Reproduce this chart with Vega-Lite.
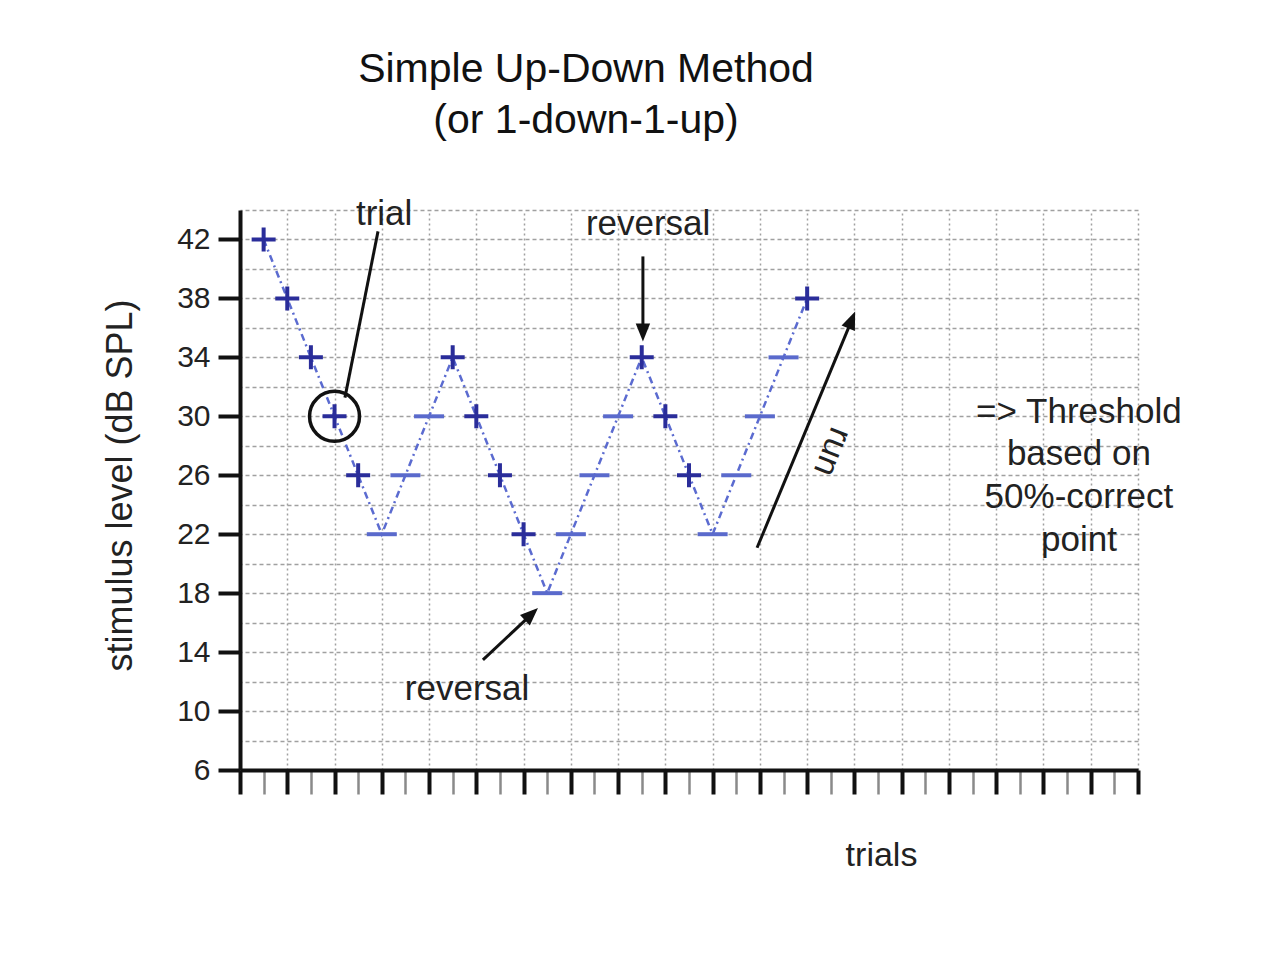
{
  "$schema": "https://vega.github.io/schema/vega-lite/v6.json",
  "width": 898,
  "height": 560,
  "autosize": {"type": "none"},
  "padding": {"left": 240, "top": 210, "right": 142, "bottom": 190},
  "background": "white",
  "config": {"view": {"stroke": null}, "font": "Liberation Sans"},
  "title": {
    "text": ["Simple Up-Down Method", "(or 1-down-1-up)"],
    "font": "Liberation Sans",
    "fontSize": 41,
    "fontWeight": "normal",
    "color": "#111",
    "lineHeight": 51,
    "anchor": "middle",
    "frame": "group",
    "baseline": "bottom",
    "dx": -103,
    "offset": 14
  },
  "datasets": {
    "trials": [
      {"trial": 1, "level": 42, "response": "+"},
      {"trial": 2, "level": 38, "response": "+"},
      {"trial": 3, "level": 34, "response": "+"},
      {"trial": 4, "level": 30, "response": "+"},
      {"trial": 5, "level": 26, "response": "+"},
      {"trial": 6, "level": 22, "response": "−"},
      {"trial": 7, "level": 26, "response": "−"},
      {"trial": 8, "level": 30, "response": "−"},
      {"trial": 9, "level": 34, "response": "+"},
      {"trial": 10, "level": 30, "response": "+"},
      {"trial": 11, "level": 26, "response": "+"},
      {"trial": 12, "level": 22, "response": "+"},
      {"trial": 13, "level": 18, "response": "−"},
      {"trial": 14, "level": 22, "response": "−"},
      {"trial": 15, "level": 26, "response": "−"},
      {"trial": 16, "level": 30, "response": "−"},
      {"trial": 17, "level": 34, "response": "+"},
      {"trial": 18, "level": 30, "response": "+"},
      {"trial": 19, "level": 26, "response": "+"},
      {"trial": 20, "level": 22, "response": "−"},
      {"trial": 21, "level": 26, "response": "−"},
      {"trial": 22, "level": 30, "response": "−"},
      {"trial": 23, "level": 34, "response": "−"},
      {"trial": 24, "level": 38, "response": "+"}
    ],
    "pointers": [
      {"name": "trial", "x": 5.84, "y": 42.55, "x2": 4.44, "y2": 31.27},
      {"name": "reversal-top", "x": 17.05, "y": 40.85, "x2": 17.05, "y2": 36.0},
      {"name": "reversal-bottom", "x": 10.28, "y": 13.47, "x2": 12.31, "y2": 16.53},
      {"name": "run", "x": 21.88, "y": 21.08, "x2": 25.86, "y2": 36.43}
    ],
    "heads": [
      {"name": "reversal-top", "x": 17.05, "y": 35.08},
      {"name": "reversal-bottom", "x": 12.61, "y": 17.0},
      {"name": "run", "x": 26.03, "y": 37.11}
    ],
    "notes": [
      {"note": "trial", "x": 6.1, "y": 43.76},
      {"note": "reversal", "x": 17.27, "y": 43.05},
      {"note": "reversal", "x": 9.61, "y": 11.5},
      {"note": "=> Threshold", "x": 35.5, "y": 30.32},
      {"note": "based on", "x": 35.5, "y": 27.47},
      {"note": "50%-correct", "x": 35.5, "y": 24.55},
      {"note": "point", "x": 35.5, "y": 21.63}
    ],
    "runlabel": [
      {"note": "run", "x": 25.05, "y": 27.6}
    ]
  },
  "resolve": {"axis": {"x": "independent", "y": "independent"}},
  "layer": [
    {
      "data": {"name": "trials"},
      "mark": {"type": "point", "opacity": 0},
      "encoding": {
        "x": {
          "field": "trial", "type": "quantitative",
          "scale": {"domain": [0, 38], "nice": false, "zero": false},
          "axis": {
            "orient": "top",
            "values": [2, 4, 6, 8, 10, 12, 14, 16, 18, 20, 22, 24, 26, 28, 30, 32, 34, 36, 38],
            "grid": true, "gridColor": "#a0a0a0", "gridDash": [2, 3], "gridWidth": 1.5,
            "domain": false, "ticks": false, "labels": false, "title": null
          }
        },
        "y": {
          "field": "level", "type": "quantitative",
          "scale": {"domain": [6, 44], "nice": false, "zero": false},
          "axis": {
            "orient": "right",
            "values": [8, 10, 12, 14, 16, 18, 20, 22, 24, 26, 28, 30, 32, 34, 36, 38, 40, 42, 44],
            "grid": true, "gridColor": "#a0a0a0", "gridDash": [4, 3], "gridWidth": 1.5,
            "domain": false, "ticks": false, "labels": false, "title": null
          }
        }
      }
    },
    {
      "mark": {"type": "rect", "fill": "white"},
      "encoding": {
        "x": {"datum": 29.2, "type": "quantitative", "scale": {"domain": [0, 38], "nice": false, "zero": false}, "axis": null},
        "x2": {"datum": 38.3},
        "y": {"datum": 20.1, "type": "quantitative", "scale": {"domain": [6, 44], "nice": false, "zero": false}, "axis": null},
        "y2": {"datum": 32.5}
      }
    },
    {
      "data": {"name": "trials"},
      "mark": {"type": "line", "color": "#5b6bd0", "strokeWidth": 2.5, "strokeDash": [7, 4, 2, 4]},
      "encoding": {
        "x": {
          "field": "trial", "type": "quantitative",
          "scale": {"domain": [0, 38], "nice": false, "zero": false},
          "axis": {
            "orient": "bottom",
            "values": [0, 1, 2, 3, 4, 5, 6, 7, 8, 9, 10, 11, 12, 13, 14, 15, 16, 17, 18, 19, 20, 21, 22, 23, 24, 25, 26, 27, 28, 29, 30, 31, 32, 33, 34, 35, 36, 37, 38],
            "grid": false, "labels": false,
            "domainColor": "#111", "domainWidth": 4,
            "ticks": true, "tickSize": 24,
            "tickColor": {"condition": {"test": "datum.value % 2 === 0", "value": "#111"}, "value": "#8a8a8a"},
            "tickWidth": {"condition": {"test": "datum.value % 2 === 0", "value": 4}, "value": 2.5},
            "title": "trials", "titleFont": "Liberation Sans", "titleFontSize": 34, "titleFontWeight": "normal",
            "titleColor": "#222", "titleX": 641, "titleY": 85, "titleAlign": "center", "titleBaseline": "middle"
          }
        },
        "y": {
          "field": "level", "type": "quantitative",
          "scale": {"domain": [6, 44], "nice": false, "zero": false},
          "axis": {
            "orient": "left",
            "values": [6, 10, 14, 18, 22, 26, 30, 34, 38, 42],
            "grid": false,
            "domainColor": "#111", "domainWidth": 4,
            "tickSize": 22, "tickWidth": 4, "tickColor": "#111",
            "labelFont": "Liberation Sans", "labelFontSize": 30, "labelColor": "#222", "labelPadding": 8,
            "title": "stimulus level (dB SPL)", "titleFont": "Liberation Sans", "titleFontSize": 36, "titleFontWeight": "normal",
            "titleColor": "#222", "titleX": -120, "titleY": 275, "titleAlign": "center", "titleBaseline": "middle", "titleAngle": -90
          }
        }
      }
    },
    {
      "data": {"name": "trials"},
      "mark": {"type": "point", "filled": false, "strokeWidth": 4, "opacity": 1, "size": 576},
      "encoding": {
        "x": {"field": "trial", "type": "quantitative", "scale": {"domain": [0, 38], "nice": false, "zero": false}, "axis": null},
        "y": {"field": "level", "type": "quantitative", "scale": {"domain": [6, 44], "nice": false, "zero": false}, "axis": null},
        "shape": {
          "field": "response", "type": "nominal",
          "scale": {"domain": ["+", "−"], "range": ["M-1,0L1,0M0,-1L0,1", "M-1.25,0L1.25,0"]},
          "legend": null
        },
        "color": {
          "field": "response", "type": "nominal",
          "scale": {"domain": ["+", "−"], "range": ["#2a2d9a", "#5a6acc"]},
          "legend": null
        }
      }
    },
    {
      "data": {"name": "trials"},
      "transform": [{"filter": "datum.trial === 4"}],
      "mark": {"type": "point", "shape": "circle", "filled": false, "size": 2500, "stroke": "#111", "strokeWidth": 3.5, "opacity": 1},
      "encoding": {
        "x": {"field": "trial", "type": "quantitative", "scale": {"domain": [0, 38], "nice": false, "zero": false}, "axis": null},
        "y": {"field": "level", "type": "quantitative", "scale": {"domain": [6, 44], "nice": false, "zero": false}, "axis": null}
      }
    },
    {
      "data": {"name": "pointers"},
      "mark": {"type": "rule", "color": "#111", "strokeWidth": 3},
      "encoding": {
        "x": {"field": "x", "type": "quantitative", "scale": {"domain": [0, 38], "nice": false, "zero": false}, "axis": null},
        "y": {"field": "y", "type": "quantitative", "scale": {"domain": [6, 44], "nice": false, "zero": false}, "axis": null},
        "x2": {"field": "x2"},
        "y2": {"field": "y2"}
      }
    },
    {
      "data": {"name": "heads"},
      "transform": [{"filter": "datum.name === 'reversal-top'"}],
      "mark": {"type": "point", "shape": "M0,0L0.8,2L-0.8,2Z", "filled": true, "color": "#111", "size": 324, "opacity": 1, "angle": 180},
      "encoding": {
        "x": {"field": "x", "type": "quantitative", "scale": {"domain": [0, 38], "nice": false, "zero": false}, "axis": null},
        "y": {"field": "y", "type": "quantitative", "scale": {"domain": [6, 44], "nice": false, "zero": false}, "axis": null}
      }
    },
    {
      "data": {"name": "heads"},
      "transform": [{"filter": "datum.name === 'reversal-bottom'"}],
      "mark": {"type": "point", "shape": "M0,0L0.8,2L-0.8,2Z", "filled": true, "color": "#111", "size": 324, "opacity": 1, "angle": 46.6},
      "encoding": {
        "x": {"field": "x", "type": "quantitative", "scale": {"domain": [0, 38], "nice": false, "zero": false}, "axis": null},
        "y": {"field": "y", "type": "quantitative", "scale": {"domain": [6, 44], "nice": false, "zero": false}, "axis": null}
      }
    },
    {
      "data": {"name": "heads"},
      "transform": [{"filter": "datum.name === 'run'"}],
      "mark": {"type": "point", "shape": "M0,0L0.8,2L-0.8,2Z", "filled": true, "color": "#111", "size": 324, "opacity": 1, "angle": 22.5},
      "encoding": {
        "x": {"field": "x", "type": "quantitative", "scale": {"domain": [0, 38], "nice": false, "zero": false}, "axis": null},
        "y": {"field": "y", "type": "quantitative", "scale": {"domain": [6, 44], "nice": false, "zero": false}, "axis": null}
      }
    },
    {
      "data": {"name": "notes"},
      "mark": {"type": "text", "font": "Liberation Sans", "fontSize": 35, "color": "#222", "align": "center", "baseline": "middle"},
      "encoding": {
        "x": {"field": "x", "type": "quantitative", "scale": {"domain": [0, 38], "nice": false, "zero": false}, "axis": null},
        "y": {"field": "y", "type": "quantitative", "scale": {"domain": [6, 44], "nice": false, "zero": false}, "axis": null},
        "text": {"field": "note"}
      }
    },
    {
      "data": {"name": "runlabel"},
      "mark": {"type": "text", "font": "Liberation Sans", "fontSize": 34, "color": "#222", "align": "center", "baseline": "middle", "angle": 112},
      "encoding": {
        "x": {"field": "x", "type": "quantitative", "scale": {"domain": [0, 38], "nice": false, "zero": false}, "axis": null},
        "y": {"field": "y", "type": "quantitative", "scale": {"domain": [6, 44], "nice": false, "zero": false}, "axis": null},
        "text": {"field": "note"}
      }
    }
  ]
}
